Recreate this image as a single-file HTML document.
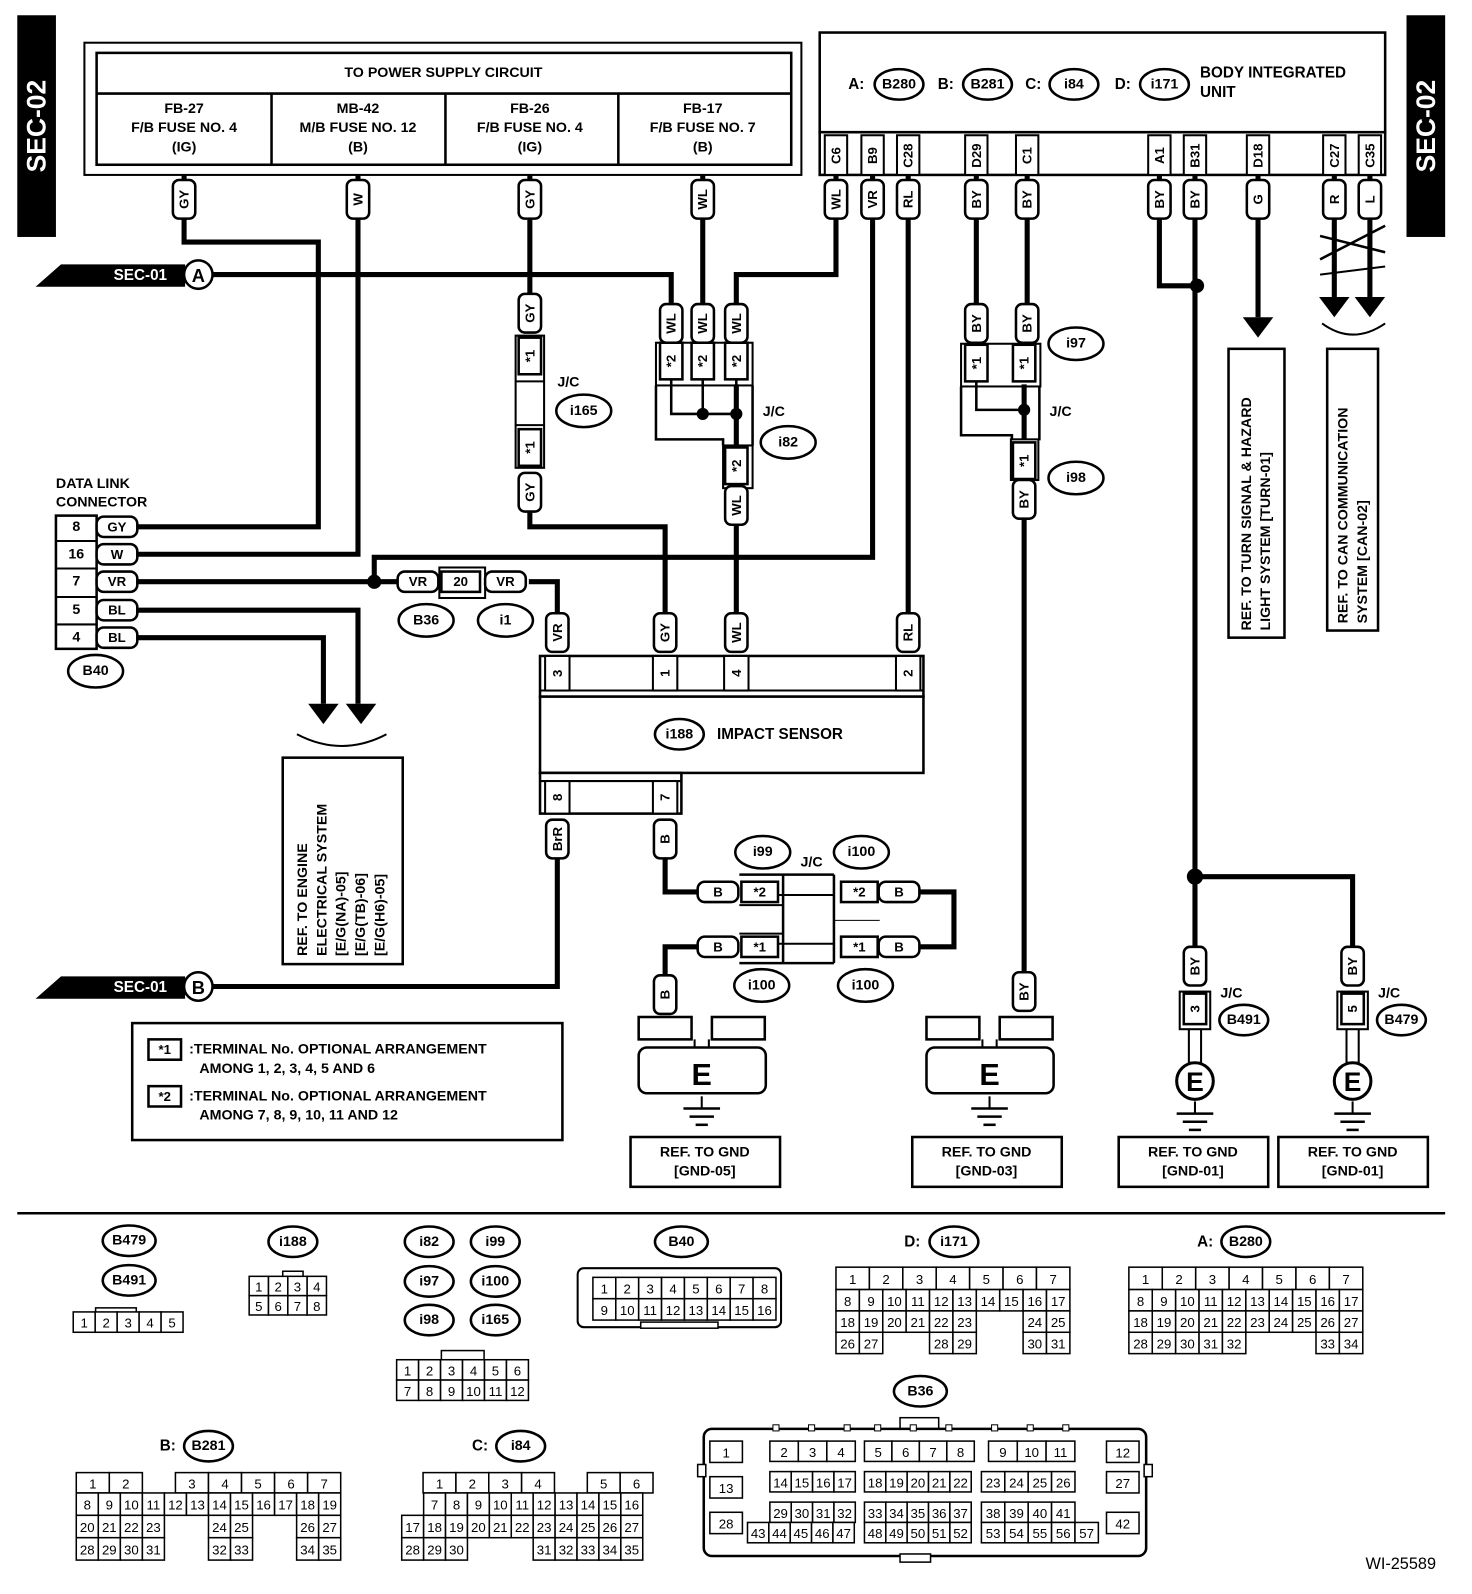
<!DOCTYPE html>
<html><head><meta charset="utf-8"><style>
html,body{margin:0;padding:0;background:#fff;}
svg{display:block;font-family:"Liberation Sans",sans-serif;font-weight:bold;}
</style></head><body>
<svg width="1472" height="1594" viewBox="0 0 1472 1594" xmlns="http://www.w3.org/2000/svg"><g id="d" transform="scale(1.017)"></g></svg>
<script>
let s='';
const L=(p,w=5)=>{s+=`<polyline points="${p}" fill="none" stroke="#000" stroke-width="${w}"/>`;};
const R=(x,y,w,h,sw=2,f='#fff',r=0)=>{s+=`<rect x="${x}" y="${y}" width="${w}" height="${h}" rx="${r}" fill="${f}" stroke="#000" stroke-width="${sw}"/>`;};
const T=(x,y,t,sz=14,a='middle',rot=0,fill='#000',fw='bold')=>{s+=`<text x="${x}" y="${y}" font-size="${sz}" text-anchor="${a}" fill="${fill}" font-weight="${fw}" dominant-baseline="central"${rot?` transform="rotate(${rot} ${x} ${y})"`:''}>${t}</text>`;};
const D=(x,y,r=7)=>{s+=`<circle cx="${x}" cy="${y}" r="${r}" fill="#000"/>`;};
const vtag=(x,y,t,h=38)=>{R(x-11,y-h/2,22,h,2.5,'#fff',6);T(x,y,t,13,'middle',-90);};
const htag=(x,y,t,w=40)=>{R(x-w/2,y-10,w,20,2.5,'#fff',7);T(x,y,t,13);};
const vbox=(x,y,t,h=36)=>{R(x-11,y-h/2,22,h,2.5);T(x,y,t,13,'middle',-90);};
const hbox=(x,y,t,w=36)=>{R(x-w/2,y-10,w,20,2.5);T(x,y,t,13);};
const O=(x,y,t,rx=27,ry=16)=>{s+=`<ellipse cx="${x}" cy="${y}" rx="${rx}" ry="${ry}" fill="#fff" stroke="#000" stroke-width="2.5"/>`;T(x,y,t,14);};
const tri=(x,y)=>{s+=`<polygon points="${x-15},${y-20} ${x+15},${y-20} ${x},${y}" fill="#000"/>`;};
const gnd=(x,y)=>{L(`${x},${y-12} ${x},${y}`,2);L(`${x-18},${y} ${x+18},${y}`,2.5);L(`${x-12},${y+8} ${x+12},${y+8}`,2.5);L(`${x-6},${y+16} ${x+6},${y+16}`,2.5);};
R(17,15,38,218,0,'#000');T(36,124,'SEC-02',26,'middle',-90,'#fff');
R(1383,15,38,218,0,'#000');T(1402,124,'SEC-02',26,'middle',-90,'#fff');
R(83,42,705,130,2);R(95,52,683,110,2.5);L('95,92 778,92',2.5);
[267,438,608].forEach(x=>L(`${x},92 ${x},162`,2.5));
T(436,72,'TO POWER SUPPLY CIRCUIT',14);
[[181,'FB-27','F/B FUSE NO. 4','(IG)'],[352,'MB-42','M/B FUSE NO. 12','(B)'],[521,'FB-26','F/B FUSE NO. 4','(IG)'],[691,'FB-17','F/B FUSE NO. 7','(B)']].forEach(c=>{T(c[0],107,c[1],14);T(c[0],126,c[2],14);T(c[0],145,c[3],14);});
R(806,32,556,98,2.5);R(806,130,556,42,2.5);
T(842,83,'A:',15);O(884,83,'B280',24,15);T(930,83,'B:',15);O(971,83,'B281',24,15);T(1016,83,'C:',15);O(1056,83,'i84',24,15);T(1104,83,'D:',15);O(1145,83,'i171',24,15);
T(1180,72,'BODY INTEGRATED',15,'start');T(1180,91,'UNIT',15,'start');
[[822,'C6'],[858,'B9'],[893,'C28'],[960,'D29'],[1010,'C1'],[1140,'A1'],[1175,'B31'],[1237,'D18'],[1312,'C27'],[1347,'C35']].forEach(p=>{R(p[0]-11,133,22,39,2);T(p[0],153,p[1],13,'middle',-90);});
L('181,172 181,238 313,238 313,518 135,518');
L('352,172 352,545 135,545');
L('208,270 660,270 660,298');
L('521,172 521,300');L('521,330 521,460');
L('521,500 521,518 654,518 654,605');
L('691,172 691,298');
L('822,172 822,270 724,270 724,298');
L('724,378 724,605');
L('858,172 858,548 368,548 368,572');
L('135,572 390,572');L('520,572 548,572 548,605');
L('893,172 893,605');
L('960,172 960,300');L('1010,172 1010,300');
L('1007,378 1007,958');
L('1140,172 1140,281 1177,281');L('1175,172 1175,935');L('1175,862 1330,862 1330,935');
L('1237,172 1237,312');
L('1312,172 1312,292');L('1347,172 1347,292');
L('1298,232 1362,248',2.5);L('1298,255 1362,222',2.5);L('1298,270 1362,262',2);
tri(1237,332);tri(1312,312);tri(1347,312);
s+=`<path d="M1300,318 Q1330,340 1362,318" fill="none" stroke="#000" stroke-width="2"/>`;
D(1177,281);D(1175,862,8);D(368,572);
[[181,'GY'],[352,'W'],[521,'GY'],[691,'WL'],[822,'WL'],[858,'VR'],[893,'RL'],[960,'BY'],[1010,'BY'],[1140,'BY'],[1175,'BY'],[1237,'G'],[1312,'R'],[1347,'L']].forEach(p=>vtag(p[0],196,p[1]));
s+=`<polygon points="35,282 60,260 182,260 182,282" fill="#000"/>`;T(138,271,'SEC-01',15,'middle',0,'#fff');
s+=`<circle cx="195" cy="270" r="14" fill="#fff" stroke="#000" stroke-width="2.5"/>`;T(195,271,'A',18);
L('208,970 548,970 548,835');
s+=`<polygon points="35,982 60,960 182,960 182,982" fill="#000"/>`;T(138,971,'SEC-01',15,'middle',0,'#fff');
s+=`<circle cx="195" cy="970" r="14" fill="#fff" stroke="#000" stroke-width="2.5"/>`;T(195,971,'B',18);
vtag(521,308,'GY');R(507,330,28,130,2);L('507,375 535,375',2);L('507,418 535,418',2);vbox(521,350,'*1');vbox(521,440,'*1');vtag(521,484,'GY');
T(548,376,'J/C',14,'start');O(574,404,'i165');
R(645,337,95,42,2,'none');
[660,691,724].forEach(x=>{vtag(x,318,'WL');vbox(x,355,'*2');});
L('645,379 645,432 711,432 711,438',2.5);L('740,379 740,438',2.5);
L('660,373 660,407 724,407',2.5);L('691,373 691,407',2.5);L('724,373 724,440',2.5);
D(691,407,6);D(724,407,6);R(711,438,29,42,2);vbox(724,458,'*2');vtag(724,497,'WL');
T(750,405,'J/C',14,'start');O(775,435,'i82');
vtag(960,318,'BY');vtag(1010,318,'BY');R(945,338,78,42,2,'none');vbox(960,357,'*1');vbox(1007,357,'*1');
L('945,380 945,428 995,428 995,433',2.5);L('1022,380 1022,433',2.5);L('960,375 960,403 1007,403',2.5);D(1007,403,6);
R(994,432,27,40,2);vbox(1007,453,'*1');vtag(1007,491,'BY');
T(1032,405,'J/C',14,'start');O(1058,338,'i97');O(1058,470,'i98');
T(55,476,'DATA LINK',14,'start');T(55,494,'CONNECTOR',14,'start');
R(55,507,40,131,2.5);
[[518,'8','GY'],[545,'16','W'],[572,'7','VR'],[600,'5','BL'],[627,'4','BL']].forEach((r,i)=>{if(i)L(`55,${r[0]-13} 95,${r[0]-13}`,2);T(75,r[0],r[1],14);htag(115,r[0],r[2]);});
O(94,660,'B40');
L('135,600 352,600 352,692');L('135,627 318,627 318,692');tri(318,712);tri(355,712);
s+=`<path d="M292,722 Q336,745 380,722" fill="none" stroke="#000" stroke-width="2"/>`;
R(278,745,118,203,2.5);
['REF. TO ENGINE','ELECTRICAL SYSTEM','[E/G(NA)-05]','[E/G(TB)-06]','[E/G(H6)-05]'].forEach((t,i)=>T(298+i*19,940,t,14,'start',-90));
htag(411,572,'VR');hbox(453,572,'20',38);R(432,558,45,30,2,'none');htag(497,572,'VR');O(419,610,'B36');O(497,610,'i1');
[[548,'VR'],[654,'GY'],[724,'WL'],[893,'RL']].forEach(p=>vtag(p[0],622,p[1]));
R(531,645,377,40,2.5);R(531,685,377,75,2.5);L('531,679 908,679',2);
[[548,'3'],[654,'1'],[724,'4'],[893,'2']].forEach(p=>{R(p[0]-12,645,24,34,2);T(p[0],662,p[1],13,'middle',-90);});
O(668,722,'i188',24,15);T(705,722,'IMPACT SENSOR',15,'start');
R(531,760,139,40,2.5);L('531,768 670,768',2);
[[548,'8'],[654,'7']].forEach(p=>{R(p[0]-12,768,24,32,2);T(p[0],784,p[1],13,'middle',-90);});
vtag(548,825,'BrR');vtag(654,825,'B');
L('654,845 654,877 686,877');L('726,877 686,877');
L('904,877 938,877 938,931 904,931');
L('686,931 654,931 654,958');
htag(706,877,'B');htag(884,877,'B');htag(706,931,'B');htag(884,931,'B');
hbox(747,877,'*2');hbox(845,877,'*2');hbox(747,931,'*1');hbox(845,931,'*1');
L('727,860 820,860',2.5);L('727,947 820,947',2.5);L('770,860 770,947',2.5);L('820,860 820,947',2.5);
L('765,880 820,880',2);L('765,928 820,928',2);L('727,890 770,890',2);L('727,918 770,918',2);L('820,905 865,905',1);
O(750,838,'i99');O(847,838,'i100');T(798,848,'J/C',14);O(749,969,'i100');O(851,969,'i100');
vtag(654,978,'B');
const Eg=(x0)=>{R(x0,1000,52,22,2.5);R(x0+72,1000,52,22,2.5);L(`${x0+55},1022 ${x0+55},1034 ${x0+69},1034 ${x0+69},1022`,2);
R(x0,1030,125,45,2.5,'#fff',8);T(x0+62,1057,'E',30);gnd(x0+62,1090);};
Eg(628);Eg(911);
vtag(1007,975,'BY');
[[1175,'3','B491'],[1330,'5','B479']].forEach(g=>{const x=g[0];vtag(x,950,'BY');R(x-15,975,30,37,2);vbox(x,992,g[1],30);L(`${x-6},1012 ${x-6},1045 ${x+6},1045 ${x+6},1012`,2);
s+=`<circle cx="${x}" cy="1063" r="18" fill="#fff" stroke="#000" stroke-width="3"/>`;T(x,1064,'E',26);gnd(x,1095);T(x+25,977,'J/C',14,'start');O(x+48,1003,g[2],24,15);});
R(1208,343,55,284,2.5);T(1226,620,'REF. TO TURN SIGNAL &amp; HAZARD',14,'start',-90);T(1245,620,'LIGHT SYSTEM [TURN-01]',14,'start',-90);
R(1305,343,50,277,2.5);T(1321,613,'REF. TO CAN COMMUNICATION',14,'start',-90);T(1340,613,'SYSTEM [CAN-02]',14,'start',-90);
R(130,1006,423,115,2.5);hbox(162,1032,'*1',32);hbox(162,1078,'*2',32);
T(186,1032,':TERMINAL No. OPTIONAL ARRANGEMENT',14,'start');T(196,1051,'AMONG 1, 2, 3, 4, 5 AND 6',14,'start');
T(186,1078,':TERMINAL No. OPTIONAL ARRANGEMENT',14,'start');T(196,1097,'AMONG 7, 8, 9, 10, 11 AND 12',14,'start');
[[620,'GND-05'],[897,'GND-03'],[1100,'GND-01'],[1257,'GND-01']].forEach(b=>{R(b[0],1118,147,49,2.5);T(b[0]+73,1133,'REF. TO GND',14);T(b[0]+73,1152,'['+b[1]+']',14);});
L('17,1193 1421,1193',2.5);
const G=(x,y,w,h,t)=>{R(x,y,w,h,1.5);T(x+w/2,y+h/2+1,t,13,'middle',0,'#000','normal');};
O(127,1220,'B479',26,15);O(127,1259,'B491',26,15);
R(94,1286,40,6,1.5);for(let i=0;i<5;i++)G(72+i*21.6,1290,21.6,20,i+1);
O(288,1221,'i188',24,15);R(278,1250,20,6,1.5);for(let i=0;i<4;i++){G(245+i*19,1255,19,19,i+1);G(245+i*19,1274,19,19,i+5);}
O(422,1221,'i82',24,15);O(487,1221,'i99',24,15);O(422,1260,'i97',24,15);O(487,1260,'i100',24,15);O(422,1298,'i98',24,15);O(487,1298,'i165',24,15);
R(434,1328,42,10,1.5);for(let i=0;i<6;i++){G(390+i*21.6,1337,21.6,20,i+1);G(390+i*21.6,1357,21.6,20,i+7);}
O(670,1221,'B40',26,15);R(568,1247,200,58,2,'#fff',6);R(630,1300,76,6,1.5);
for(let i=0;i<8;i++){G(583+i*22.5,1256,22.5,21,i+1);G(583+i*22.5,1277,22.5,21,i+9);}
T(897,1221,'D:',15);O(938,1221,'i171',24,15);
const big=(x,y,tw,rows)=>{for(let i=0;i<7;i++)G(x+i*tw/7,y,tw/7,22,i+1);const cw=tw/10;rows.forEach((r,ri)=>r.forEach(c=>G(x+c[0]*cw,y+22+ri*21,cw,21,c[1])));};
const seq=(cols,start)=>cols.map((c,i)=>[c,start+i]);
big(822,1246,230,[seq([0,1,2,3,4,5,6,7,8,9],8),seq([0,1,2,3,4,5,8,9],18),seq([0,1,4,5,8,9],26)]);
T(1185,1221,'A:',15);O(1225,1221,'B280',24,15);
big(1110,1246,230,[seq([0,1,2,3,4,5,6,7,8,9],8),seq([0,1,2,3,4,5,6,7,8,9],18),seq([0,1,2,3,4,8,9],28)]);
T(165,1422,'B:',15);O(205,1422,'B281',24,15);
const bx=75,bw=260/12;
[[0,1],[1,2],[3,3],[4,4],[5,5],[6,6],[7,7]].forEach(c=>G(bx+c[0]*32.5,1448,32.5,20,c[1]));
[seq([0,1,2,3,4,5,6,7,8,9,10,11],8),seq([0,1,2,3,6,7,10,11],20),seq([0,1,2,3,6,7,10,11],28)].forEach((r,ri)=>r.forEach(c=>G(bx+c[0]*bw,1468+ri*22,bw,22,c[1])));
T(472,1422,'C:',15);O(512,1422,'i84',24,15);
const cx0=395,cw2=237/11;
[[0,1],[1,2],[2,3],[3,4],[5,5],[6,6]].forEach(c=>G(416+c[0]*32.3,1448,32.3,20,c[1]));
seq([1,2,3,4,5,6,7,8,9,10],7).forEach(c=>G(cx0+c[0]*cw2,1468,cw2,22,c[1]));
seq([0,1,2,3,4,5,6,7,8,9,10],17).forEach(c=>G(cx0+c[0]*cw2,1490,cw2,22,c[1]));
seq([0,1,2,6,7,8,9,10],28).forEach(c=>G(cx0+c[0]*cw2,1512,cw2,22,c[1]));
O(905,1368,'B36',26,15);R(885,1394,38,12,1.5);R(692,1405,435,125,2.5,'#fff',8);R(885,1528,30,8,1.5);
R(686,1440,8,12,1.5);R(1125,1440,8,12,1.5);
[[1417,1],[1452,13],[1487,28]].forEach(c=>G(698,c[0],32,21,c[1]));
[[1417,12],[1447,27],[1487,42]].forEach(c=>G(1088,c[0],32,21,c[1]));
const run=(x,y,w,n,st)=>{for(let i=0;i<n;i++)G(x+i*w,y,w,20,st+i);};
run(757,1417,28,3,2);run(850,1417,27,4,5);run(972,1417,28.3,3,9);
run(757,1447,21,4,14);run(850,1447,21,5,18);run(965,1447,23,4,23);
run(757,1477,21,4,29);run(850,1477,21,5,33);run(965,1477,23,4,38);
run(735,1497,21,5,43);run(850,1497,21,5,48);run(965,1497,23,5,53);
[760,795,830,860,895,930,975,1010,1045].forEach(x=>R(x,1401,6,6,1));
T(1412,1538,'WI-25589',16,'end',0,'#000','normal');
document.getElementById('d').innerHTML=s;
</script>
</body></html>
